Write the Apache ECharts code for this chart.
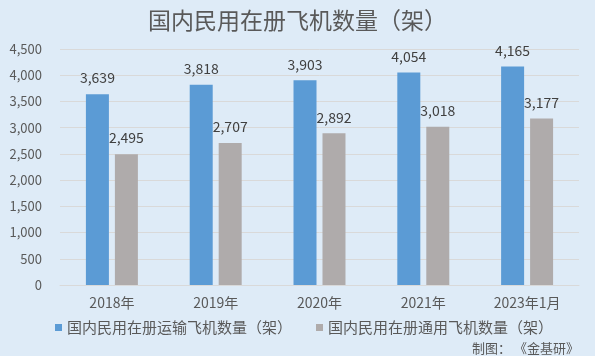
<!DOCTYPE html>
<html><head><meta charset="utf-8">
<script src="https://cdn.jsdelivr.net/npm/echarts@6/dist/echarts.min.js"></script>
<style>html,body{margin:0;padding:0;background:#DEEBF7;}#c{width:595px;height:356px;}</style>
</head><body><div id="c"></div>
<script>
var categories = ['2018年','2019年','2020年','2021年','2023年1月'];
var transportValues = [3639, 3818, 3903, 4054, 4165];
var generalValues = [2495, 2707, 2892, 3018, 3177];
var seriesNames = ['国内民用在册运输飞机数量（架）','国内民用在册通用飞机数量（架）'];
var titleText = '国内民用在册飞机数量（架）';
var sourceText = '制图： 《金基研》';

var font = '"Noto Sans CJK SC", "Noto Sans", sans-serif';
var chart = echarts.init(document.getElementById('c'));
chart.setOption({
  backgroundColor: '#DEEBF7',
  animation: false,
  textStyle: {fontFamily: font},
  title: [{
    text: titleText, left: 'center', top: 4,
    textStyle: {fontSize: 23, fontWeight: 'normal', color: '#595959', fontFamily: font}
  }, {
    text: sourceText, right: 11, top: 337,
    textStyle: {fontSize: 13, fontWeight: 'normal', color: '#595959', fontFamily: font}
  }],
  legend: {
    top: 315, left: 50, itemWidth: 7, itemHeight: 7, itemGap: 24,
    icon: 'rect',
    textStyle: {fontSize: 15, color: '#595959', fontFamily: font},
    data: seriesNames
  },
  grid: {left: 60, right: 16, top: 49, bottom: 71, containLabel: false},
  xAxis: {
    type: 'category', data: categories,
    axisLine: {lineStyle: {color: '#D9D9D9'}},
    axisTick: {show: false},
    axisLabel: {color: '#595959', fontSize: 14, margin: 11, fontFamily: font}
  },
  yAxis: {
    type: 'value', min: 0, max: 4500, interval: 500,
    axisLine: {show: false}, axisTick: {show: false},
    splitLine: {lineStyle: {color: '#D9D9D9'}},
    axisLabel: {color: '#595959', fontSize: 13, margin: 18, fontFamily: font,
      formatter: function(v){return v.toLocaleString('en-US');}}
  },
  series: [{
    name: seriesNames[0], type: 'bar', data: transportValues,
    barWidth: 23, barGap: '26%',
    itemStyle: {color: '#5B9BD5'},
    label: {show: true, position: 'top', distance: 9, color: '#404040', fontSize: 14, fontFamily: font,
      formatter: function(p){return p.value.toLocaleString('en-US');}}
  }, {
    name: seriesNames[1], type: 'bar', data: generalValues,
    barWidth: 23,
    itemStyle: {color: '#AFABAB'},
    label: {show: true, position: 'top', distance: 9, color: '#404040', fontSize: 14, fontFamily: font,
      formatter: function(p){return p.value.toLocaleString('en-US');}}
  }]
});
</script></body></html>
